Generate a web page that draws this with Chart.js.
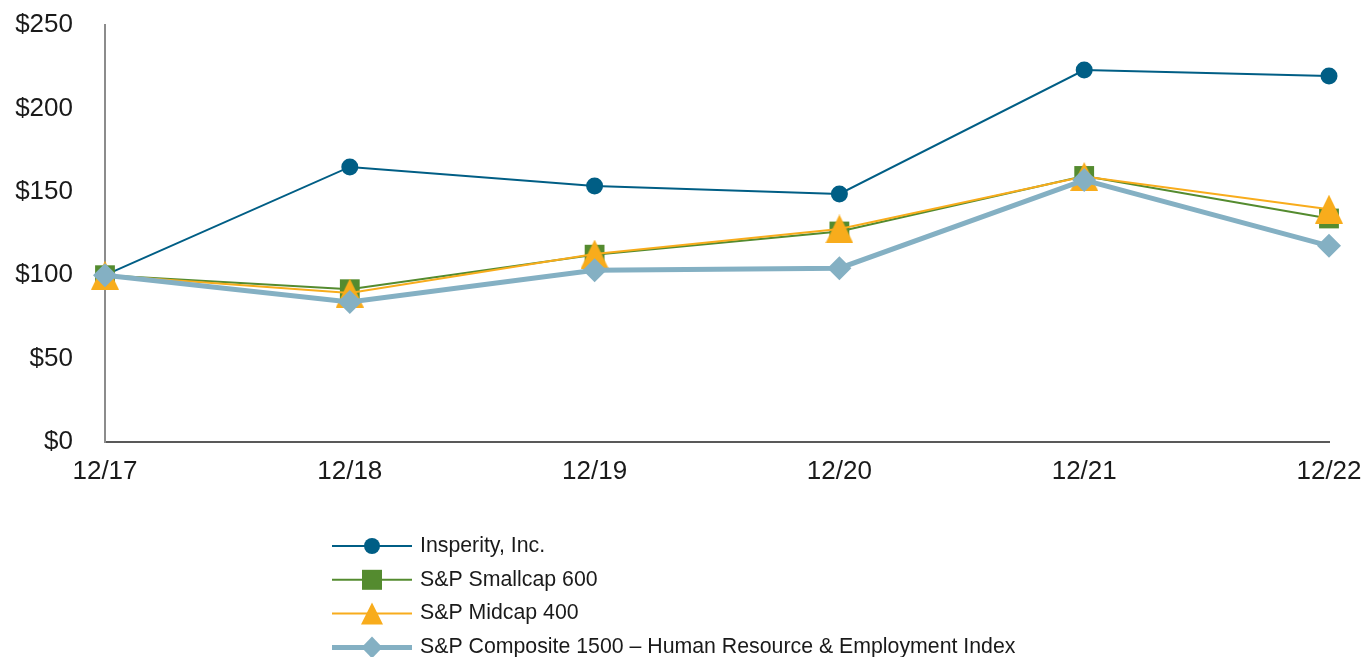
<!DOCTYPE html>
<html>
<head>
<meta charset="utf-8">
<script src="https://cdn.jsdelivr.net/npm/chart.js"></script>
<style>
  html, body { margin: 0; padding: 0; background: #fff; }
  #wrap { width: 1364px; height: 657px; position: relative; }
</style>
</head>
<body>
<div id="wrap"><canvas id="line-chart"></canvas></div>
<script>
// cumulative total return, $100 invested 12/17
let years = ["12/17", "12/18", "12/19", "12/20", "12/21", "12/22"];
let insperity = [100, 164.9, 153.5, 148.7, 223, 219.4];
let smallcap600 = [100, 91.6, 112.3, 126.2, 159.5, 134];
let midcap400 = [100, 89.3, 112.7, 127.7, 159.2, 139.6];
let hrIndex = [100, 84, 103, 104.2, 157, 117.6];
let yTicks = [0, 50, 100, 150, 200, 250];

let seriesNames = [
  "Insperity, Inc.",
  "S&P Smallcap 600",
  "S&P Midcap 400",
  "S&P Composite 1500 \u2013 Human Resource & Employment Index",
];
let seriesColors = ["#005e85", "#548b2f", "#f8ac1c", "#84b0c3"];

let font = "'Liberation Sans', Arial, sans-serif";

function drawMarker(ctx, style, x, y, w, h, color) {
  ctx.fillStyle = color;
  ctx.beginPath();
  if (style === "circle") {
    ctx.ellipse(x, y, w / 2, h / 2, 0, 0, Math.PI * 2);
  } else if (style === "rect") {
    ctx.rect(x - w / 2, y - h / 2, w, h);
  } else if (style === "triangle") {
    ctx.moveTo(x, y - h / 2);
    ctx.lineTo(x + w / 2, y + h / 2);
    ctx.lineTo(x - w / 2, y + h / 2);
    ctx.closePath();
  } else {
    ctx.moveTo(x, y - h / 2);
    ctx.lineTo(x + w / 2, y);
    ctx.lineTo(x, y + h / 2);
    ctx.lineTo(x - w / 2, y);
    ctx.closePath();
  }
  ctx.fill();
}

// centred triangle marker (chart.js' own triangle sits high on the point)
let triImg = document.createElement("canvas");
triImg.width = 28;
triImg.height = 29;
drawMarker(triImg.getContext("2d"), "triangle", 14, 14.5, 28, 29, seriesColors[2]);

let values = [insperity, smallcap600, midcap400, hrIndex];
let legendStyles = ["circle", "rect", "triangle", "rectRot"];
let legendSizes = [[16, 16], [20, 20], [22, 22], [21, 22]];
let styles = ["circle", "rect", triImg, "rectRot"];
let radii = [8.5, 14, 14, 12];
let widths = [2, 2, 2, 5];

// legend drawn as a vertical list under the chart
let legendList = {
  id: "legendList",
  afterDraw(chart) {
    let ctx = chart.ctx;
    ctx.save();
    chart.data.datasets.forEach((ds, i) => {
      let y = 546 + i * 33.8;
      ctx.strokeStyle = ds.borderColor;
      ctx.lineWidth = ds.borderWidth;
      ctx.beginPath();
      ctx.moveTo(332, y);
      ctx.lineTo(412, y);
      ctx.stroke();
      drawMarker(ctx, legendStyles[i], 372, y, legendSizes[i][0], legendSizes[i][1], ds.borderColor);
      ctx.fillStyle = "#1a1a1a";
      ctx.font = "21.3px " + font;
      ctx.textBaseline = "middle";
      ctx.textAlign = "left";
      ctx.fillText(ds.label, 420, y);
    });
    ctx.restore();
  },
};

let datasets = values.map((v, i) => ({
  label: seriesNames[i],
  data: v,
  borderColor: seriesColors[i],
  backgroundColor: seriesColors[i],
  borderWidth: widths[i],
  pointStyle: styles[i],
  pointRadius: radii[i],
  pointHoverRadius: radii[i],
  pointBorderWidth: 0,
  tension: 0,
  clip: false,
  order: 3 - i, // last series on top
}));

new Chart(document.getElementById("line-chart"), {
  type: "line",
  data: { labels: years, datasets: datasets },
  plugins: [legendList],
  options: {
    responsive: true,
    maintainAspectRatio: false,
    animation: false,
    layout: { padding: { top: 25, right: 35, bottom: 175, left: 0 } },
    plugins: {
      legend: { display: false },
      tooltip: { enabled: false },
    },
    scales: {
      x: {
        offset: false,
        grid: { display: false },
        border: { display: true, color: "#595959", width: 2 },
        ticks: { color: "#1a1a1a", font: { family: font, size: 26 }, padding: 6, maxRotation: 0 },
        afterFit: (scale) => {
          scale.height = 40;
          scale.paddingLeft = 0;
          scale.paddingRight = 0;
        },
      },
      y: {
        min: 0,
        max: 250,
        grid: { display: false },
        border: { display: true, color: "#8c8c8c", width: 2 },
        afterBuildTicks: (scale) => { scale.ticks = yTicks.map((v) => ({ value: v })); },
        ticks: {
          color: "#1a1a1a",
          font: { family: font, size: 26 },
          padding: 24,
          callback: (v) => "$" + v,
        },
        afterFit: (scale) => {
          scale.width = 105;
          scale.paddingTop = 0;
          scale.paddingBottom = 0;
        },
      },
    },
  },
});
</script>
</body>
</html>
